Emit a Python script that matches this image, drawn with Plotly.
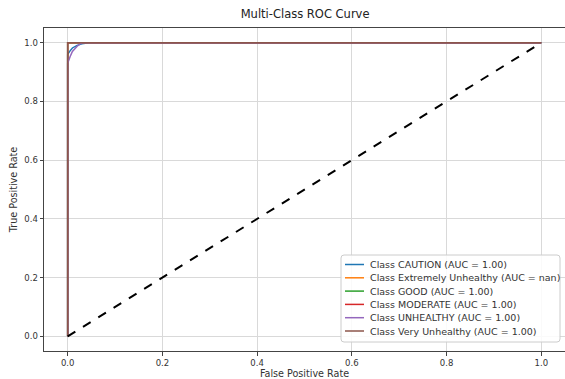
import plotly.graph_objects as go
import math

classes = ["CAUTION", "Extremely Unhealthy", "GOOD", "MODERATE", "UNHEALTHY", "Very Unhealthy"]
auc_labels = ["1.00", "nan", "1.00", "1.00", "1.00", "1.00"]
colors = ["#1f77b4", "#ff7f0e", "#2ca02c", "#d62728", "#9467bd", "#8c564b"]

fpr_caution = [0.0, 0.0, 0.005, 0.01, 0.02, 0.03, 0.045, 1.0]
tpr_caution = [0.0, 0.96, 0.972, 0.982, 0.991, 0.996, 1.0, 1.0]
fpr_extreme = [math.nan, math.nan]
tpr_extreme = [math.nan, math.nan]
fpr_good = [0.0, 0.0, 1.0]
tpr_good = [0.0, 1.0, 1.0]
fpr_moderate = [0.0, 0.0, 1.0]
tpr_moderate = [0.0, 1.0, 1.0]
fpr_unhealthy = [0.0, 0.0, 0.005, 0.01, 0.02, 0.03, 1.0]
tpr_unhealthy = [0.0, 0.93, 0.952, 0.97, 0.988, 1.0, 1.0]
fpr_very = [0.0, 0.0, 1.0]
tpr_very = [0.0, 1.0, 1.0]

fprs = [fpr_caution, fpr_extreme, fpr_good, fpr_moderate, fpr_unhealthy, fpr_very]
tprs = [tpr_caution, tpr_extreme, tpr_good, tpr_moderate, tpr_unhealthy, tpr_very]

diag_x = [0, 1]
diag_y = [0, 1]
ticks = [0.0, 0.2, 0.4, 0.6, 0.8, 1.0]

W, H = 565, 379
ML, MR, MT, MB = 44, 0, 28, 28
PW, PH = W - ML - MR, H - MT - MB


def px_x(p):
    return (p - ML) / PW


def px_y(p):
    return (H - MB - p) / PH


fig = go.Figure()
for name, auc, c, fx, ty in zip(classes, auc_labels, colors, fprs, tprs):
    fig.add_trace(go.Scatter(x=fx, y=ty, mode="lines", line=dict(color=c, width=1.5),
                             name=f"Class {name} (AUC = {auc})", showlegend=False))
fig.add_trace(go.Scatter(x=diag_x, y=diag_y, mode="lines", showlegend=False,
                         line=dict(color="black", width=2, dash="dash")))

axis_common = dict(
    showgrid=True, gridcolor="#d9d9d9", gridwidth=1,
    showline=True, linecolor="#444", linewidth=1, mirror=True,
    ticks="outside", ticklen=3.5, tickcolor="#444",
    tickvals=ticks, tickformat=".1f", zeroline=False,
    tickfont=dict(family="DejaVu Sans", size=8.5, color="#333"),
    range=[-0.05, 1.05],
)
fig.update_xaxes(**axis_common, title=dict(text="False Positive Rate", standoff=4,
                 font=dict(family="DejaVu Sans", size=9.6, color="#333")))
fig.update_yaxes(**axis_common, title=dict(text="True Positive Rate", standoff=4,
                 font=dict(family="DejaVu Sans", size=9.6, color="#333")))

# Legend drawn manually (matplotlib-style compact legend)
bx0, bx1, by_top, by_bot = 341, 560, 255, 342
r = 3
x0, x1 = px_x(bx0), px_x(bx1)
y0, y1 = px_y(by_bot), px_y(by_top)
rx, ry = r / PW, r / PH
path = (f"M {x0+rx},{y0} L {x1-rx},{y0} Q {x1},{y0} {x1},{y0+ry} "
        f"L {x1},{y1-ry} Q {x1},{y1} {x1-rx},{y1} L {x0+rx},{y1} "
        f"Q {x0},{y1} {x0},{y1-ry} L {x0},{y0+ry} Q {x0},{y0} {x0+rx},{y0} Z")
shapes = [dict(type="path", path=path, xref="paper", yref="paper",
               fillcolor="rgba(255,255,255,0.85)", line=dict(color="#cccccc", width=1), layer="above")]
annotations = []
row0, row_step = 264.5, 13.3
for i, (name, auc, c) in enumerate(zip(classes, auc_labels, colors)):
    py = row0 + i * row_step
    shapes.append(dict(type="line", xref="paper", yref="paper",
                       x0=px_x(345), x1=px_x(364), y0=px_y(py), y1=px_y(py),
                       line=dict(color=c, width=1.5), layer="above"))
    annotations.append(dict(text=f"Class {name} (AUC = {auc})", xref="paper", yref="paper",
                            x=px_x(368), y=px_y(py), xanchor="left", yanchor="middle",
                            showarrow=False,
                            font=dict(family="DejaVu Sans", size=9.5, color="#333")))

fig.update_layout(
    width=W, height=H,
    margin=dict(l=ML, r=MR, t=MT, b=MB),
    paper_bgcolor="white", plot_bgcolor="white",
    title=dict(text="Multi-Class ROC Curve", x=0.54, xanchor="center", y=0.963, yanchor="middle",
               font=dict(family="DejaVu Sans", size=11.5, color="#222")),
    shapes=shapes, annotations=annotations,
    showlegend=False,
)

fig.write_html("out.html")
